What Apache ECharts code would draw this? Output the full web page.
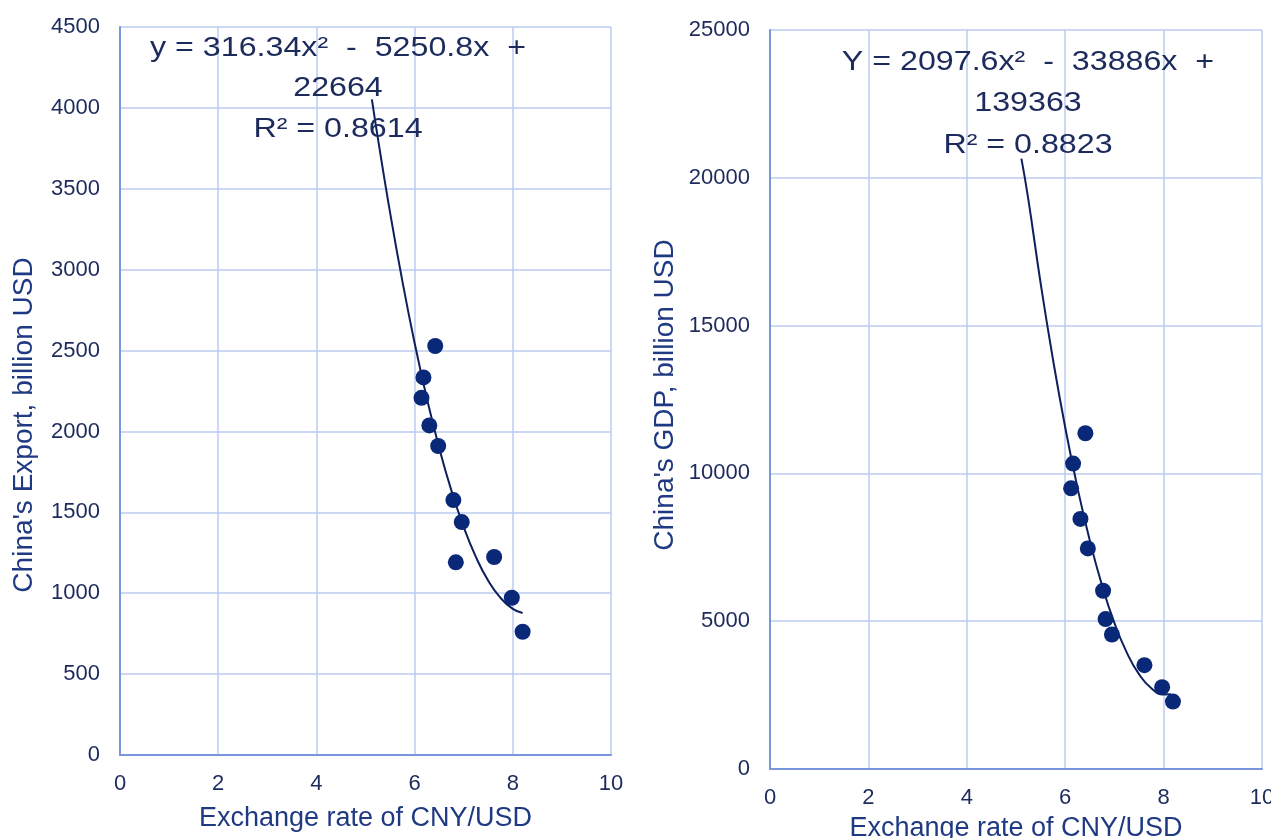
<!DOCTYPE html>
<html><head><meta charset="utf-8">
<script src="https://cdn.jsdelivr.net/npm/echarts@6/dist/echarts.min.js"></script>
<style>html,body{margin:0;padding:0;background:#fff;overflow:hidden}#c{width:1271px;height:838px}</style>
</head><body><div id="c"></div>
<script>
// ---- data ----
const xTicks = [0, 2, 4, 6, 8, 10];
const exportTicks = [0, 500, 1000, 1500, 2000, 2500, 3000, 3500, 4000, 4500];
const gdpTicks = [0, 5000, 10000, 15000, 20000, 25000];

const exportRate  = [6.42, 6.18, 6.14, 6.30, 6.48, 6.79, 6.96, 6.84, 7.62, 7.98, 8.20];
const exportValue = [2528, 2334, 2208, 2037, 1910, 1576, 1440, 1191, 1224, 972, 762];

const gdpRate  = [6.41, 6.16, 6.12, 6.31, 6.46, 6.77, 6.82, 6.95, 7.61, 7.97, 8.19];
const gdpValue = [11358, 10332, 9495, 8459, 7463, 6030, 5071, 4550, 3513, 2768, 2280];

// trend curves as drawn
const exportTrendX = [5.13, 5.25, 5.5, 5.75, 6, 6.25, 6.5, 6.75, 7, 7.25, 7.5, 7.75, 8, 8.2];
const exportTrendY = [4052, 3816, 3354, 2931, 2547, 2204, 1899, 1634, 1409, 1223, 1077, 971, 903, 878];
const gdpTrendX = [5.11, 5.25, 5.5, 5.75, 6, 6.25, 6.5, 6.75, 7, 7.25, 7.5, 7.75, 8, 8.15];
const gdpTrendY = [20650, 19277, 16442, 13870, 11561, 9513, 7728, 6204, 4943, 3945, 3208, 2734, 2521, 2525];

const exportEquation = ['y = 316.34x\u00B2  -  5250.8x  +', '22664', 'R\u00B2 = 0.8614'];
const gdpEquation = ['Y = 2097.6x\u00B2  -  33886x  +', '139363', 'R\u00B2 = 0.8823'];
const xName = 'Exchange rate of CNY/USD';
const exportName = "China's Export, billion USD";
const gdpName = "China's GDP, billion USD";

// ---- chart ----
const FONT = '"Liberation Sans", Arial, sans-serif';
const labelColor = '#1c2a5c';
const nameColor = '#1f3a82';
const gridColor = '#bccbf2';
const axisColor = '#7896dc';
const dotColor = '#0a2878';
const lineColor = '#0d1f5c';

const zip = (a, b) => a.map((v, i) => [v, b[i]]);
const plain = v => String(v);

function makeX(i, margin, gap) {
  return {
    type: 'value', gridIndex: i, min: xTicks[0], max: xTicks[xTicks.length - 1],
    interval: xTicks[1] - xTicks[0],
    axisLine: { show: true, lineStyle: { color: axisColor, width: 2 } },
    axisTick: { show: false },
    splitLine: { show: true, lineStyle: { color: gridColor, width: 1.5 } },
    axisLabel: { color: labelColor, fontSize: 22, fontFamily: FONT, margin: margin, formatter: plain },
    name: xName, nameLocation: 'middle', nameGap: gap,
    nameTextStyle: { color: nameColor, fontSize: 27, fontFamily: FONT, verticalAlign: 'top' }
  };
}
function makeY(i, ticks) {
  return {
    type: 'value', gridIndex: i, min: ticks[0], max: ticks[ticks.length - 1],
    interval: ticks[1] - ticks[0],
    axisLine: { show: true, lineStyle: { color: axisColor, width: 2 } },
    axisTick: { show: false },
    splitLine: { show: true, lineStyle: { color: gridColor, width: 1.5 } },
    axisLabel: { color: labelColor, fontSize: 22, fontFamily: FONT, margin: 20, formatter: plain }
  };
}

function eqTexts(lines, cx, ys) {
  return lines.map((t, k) => ({
    type: 'text', x: cx, y: ys[k], scaleX: 1.15, z: 100,
    style: { text: t, font: '28px ' + FONT, fill: labelColor, align: 'center', verticalAlign: 'middle' }
  }));
}

const chart = echarts.init(document.getElementById('c'));
chart.setOption({
  backgroundColor: '#ffffff',
  animation: false,
  grid: [
    { left: 120, top: 27, right: 660, bottom: 83, containLabel: false, outerBoundsMode: 'none' },
    { left: 770, top: 30, right: 9, bottom: 69, containLabel: false, outerBoundsMode: 'none' }
  ],
  xAxis: [makeX(0, 18, 50), makeX(1, 18, 46)],
  yAxis: [makeY(0, exportTicks), makeY(1, gdpTicks)],
  series: [
    { type: 'line', xAxisIndex: 0, yAxisIndex: 0, data: zip(exportTrendX, exportTrendY),
      smooth: true, showSymbol: false, lineStyle: { color: lineColor, width: 2 }, z: 3 },
    { type: 'scatter', xAxisIndex: 0, yAxisIndex: 0, data: zip(exportRate, exportValue),
      symbolSize: 16, itemStyle: { color: dotColor, opacity: 1 }, z: 4 },
    { type: 'line', xAxisIndex: 1, yAxisIndex: 1, data: zip(gdpTrendX, gdpTrendY),
      smooth: true, showSymbol: false, lineStyle: { color: lineColor, width: 2 }, z: 3 },
    { type: 'scatter', xAxisIndex: 1, yAxisIndex: 1, data: zip(gdpRate, gdpValue),
      symbolSize: 16, itemStyle: { color: dotColor, opacity: 1 }, z: 4 }
  ],
  graphic: [
    ...eqTexts(exportEquation, 338, [48, 88, 129]),
    ...eqTexts(gdpEquation, 1028, [62, 103, 145]),
    { type: 'text', x: 24, y: 425, rotation: Math.PI / 2,
      style: { text: exportName, font: '28px ' + FONT, fill: nameColor, align: 'center', verticalAlign: 'middle' } },
    { type: 'text', x: 665, y: 395, rotation: Math.PI / 2,
      style: { text: gdpName, font: '28px ' + FONT, fill: nameColor, align: 'center', verticalAlign: 'middle' } }
  ]
});
</script></body></html>
